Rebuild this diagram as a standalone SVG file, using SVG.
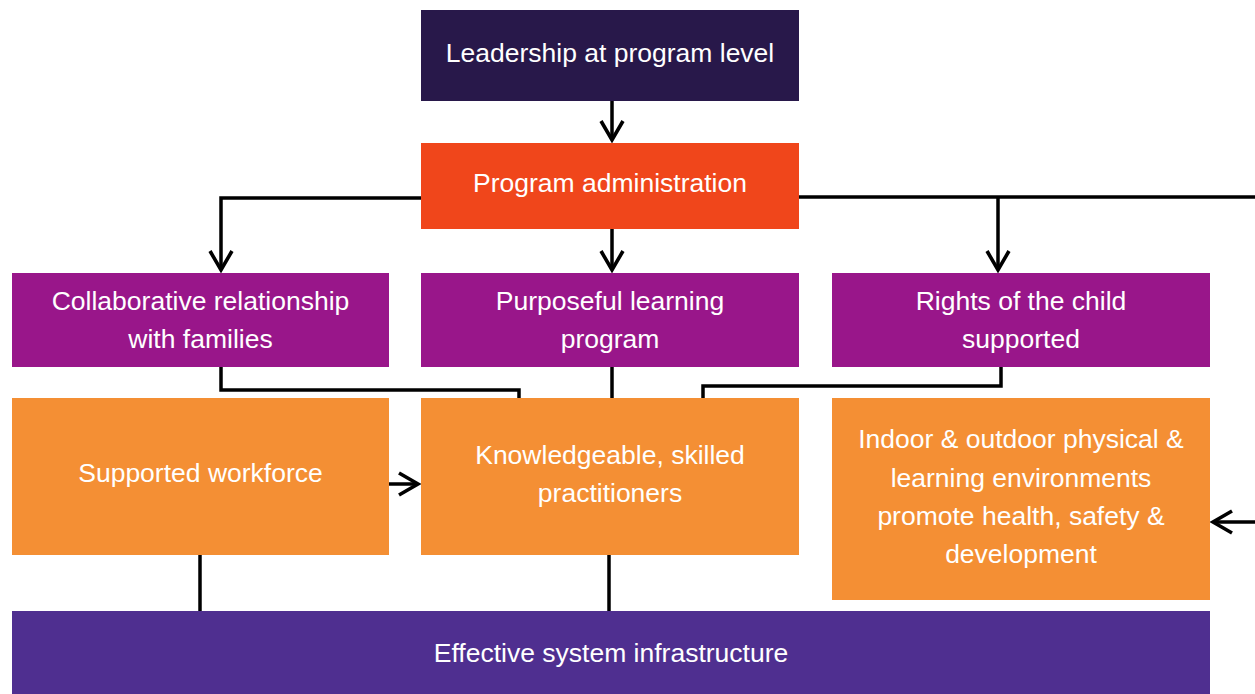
<svg xmlns="http://www.w3.org/2000/svg" width="1255" height="694" viewBox="0 0 1255 694">
  <style>
    .lbl { font-family: "Liberation Sans", Arial, sans-serif; font-size: 26.5px; fill: #ffffff; text-anchor: middle; }
    .wire { fill: none; stroke: #000000; stroke-width: 3.5; }
    .lead { fill: #28184a; }
    .admin { fill: #f0461b; }
    .pillar { fill: #99168a; }
    .practice { fill: #f48f34; }
    .base { fill: #4f2f90; }
  </style>
  <defs>
    <marker id="chev" markerUnits="userSpaceOnUse" markerWidth="30" markerHeight="30" refX="0" refY="0" viewBox="-25 -15 30 30" orient="auto" overflow="visible">
      <path d="M-19,-11 L0,0 L-19,11" fill="none" stroke="#000000" stroke-width="3.6" stroke-linejoin="miter"/>
    </marker>
  </defs>

  <rect width="1255" height="694" fill="#ffffff"/>

  <!-- connectors -->
  <g id="connectors">
    <path class="wire" d="M612,101 V140" marker-end="url(#chev)"/>
    <path class="wire" d="M421,198 H221 V270" marker-end="url(#chev)"/>
    <path class="wire" d="M612,229 V270" marker-end="url(#chev)"/>
    <path class="wire" d="M799,197 H1255"/>
    <path class="wire" d="M998,197 V270" marker-end="url(#chev)"/>
    <path class="wire" d="M221,367 V390 H519 V405"/>
    <path class="wire" d="M612,367 V398"/>
    <path class="wire" d="M1001,367 V386 H703 V398"/>
    <path class="wire" d="M389,484 H418" marker-end="url(#chev)"/>
    <path class="wire" d="M1255,522 H1213" marker-end="url(#chev)"/>
    <path class="wire" d="M200,555 V611"/>
    <path class="wire" d="M609,555 V611"/>
  </g>

  <g id="leadership">
    <rect class="lead" x="421" y="10" width="378" height="91"/>
    <text class="lbl" x="610" y="62">Leadership at program level</text>
  </g>

  <g id="program-administration">
    <rect class="admin" x="421" y="143" width="378" height="86"/>
    <text class="lbl" x="610" y="192">Program administration</text>
  </g>

  <g id="collaborative-relationship">
    <rect class="pillar" x="12" y="273" width="377" height="94"/>
    <text class="lbl" x="200.5" y="310">Collaborative relationship</text>
    <text class="lbl" x="200.5" y="348">with families</text>
  </g>

  <g id="purposeful-learning">
    <rect class="pillar" x="421" y="273" width="378" height="94"/>
    <text class="lbl" x="610" y="310">Purposeful learning</text>
    <text class="lbl" x="610" y="348">program</text>
  </g>

  <g id="rights-of-child">
    <rect class="pillar" x="832" y="273" width="378" height="94"/>
    <text class="lbl" x="1021" y="310">Rights of the child</text>
    <text class="lbl" x="1021" y="348">supported</text>
  </g>

  <g id="supported-workforce">
    <rect class="practice" x="12" y="398" width="377" height="157"/>
    <text class="lbl" x="200.5" y="482">Supported workforce</text>
  </g>

  <g id="knowledgeable-practitioners">
    <rect class="practice" x="421" y="398" width="378" height="157"/>
    <text class="lbl" x="610" y="464">Knowledgeable, skilled</text>
    <text class="lbl" x="610" y="502">practitioners</text>
  </g>

  <g id="environments">
    <rect class="practice" x="832" y="398" width="378" height="202"/>
    <text class="lbl" x="1021" y="448">Indoor &amp; outdoor physical &amp;</text>
    <text class="lbl" x="1021" y="487">learning environments</text>
    <text class="lbl" x="1021" y="525">promote health, safety &amp;</text>
    <text class="lbl" x="1021" y="563">development</text>
  </g>

  <g id="system-infrastructure">
    <rect class="base" x="12" y="611" width="1198" height="83"/>
    <text class="lbl" x="611" y="662">Effective system infrastructure</text>
  </g>
</svg>
